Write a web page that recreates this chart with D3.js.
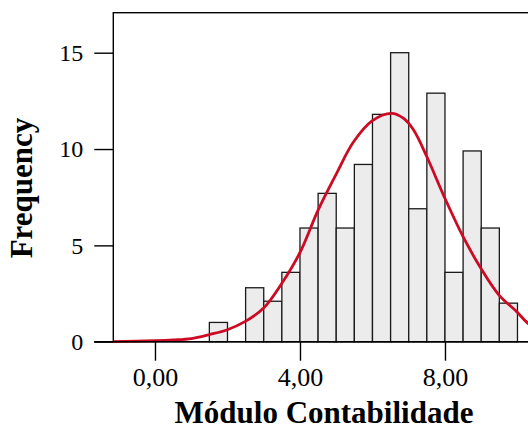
<!DOCTYPE html>
<html>
<head>
<meta charset="utf-8">
<script src="https://cdn.jsdelivr.net/npm/d3@7"></script>
<style>
  body { margin: 0; background: #fff; }
  svg { display: block; }
  text { font-family: "Liberation Serif", "Times New Roman", serif; fill: #000; }
</style>
</head>
<body>
<svg id="chart" width="528" height="430"></svg>
<script>
// histogram bins (lower edge, width 0.5) and frequencies
var binLow = [1.5, 2.0, 2.5, 3.0, 3.5, 4.0, 4.5, 5.0, 5.5, 6.0, 6.5, 7.0, 7.5, 8.0, 8.5, 9.0, 9.5];
var binCount = [1.0, 0, 2.8, 2.1, 3.6, 5.9, 7.7, 5.9, 9.2, 11.8, 15.0, 6.9, 12.9, 3.6, 9.9, 5.9, 2.0];
var binWidth = 0.5;

// fitted normal curve
var curveX = [-1.15, 0, 0.5, 1.0, 1.52, 1.98, 2.48, 2.99, 3.5, 4.0, 4.5, 5.01, 5.47, 5.98, 6.53, 6.85, 7.13, 7.5, 7.98, 8.5, 8.99, 9.49, 9.98, 10.29, 10.5];
var curveY = [0, 0.05, 0.09, 0.16, 0.38, 0.61, 1.04, 1.73, 3.03, 4.63, 6.83, 8.74, 10.35, 11.45, 11.85, 11.6, 11.0, 9.60, 7.52, 5.45, 3.81, 2.42, 1.56, 0.95, 0.72];

var xTicks = [0, 4, 8];
var xTickLabels = ["0,00", "4,00", "8,00"];
var yTicks = [0, 5, 10, 15];

var svg = d3.select("#chart");

var plot = {left: 113.3, top: 12.7, bottom: 341.7, right: 535.6};

var x = d3.scaleLinear().domain([-1.15, 10.5]).range([plot.left, plot.right]);
var y = d3.scaleLinear().domain([0, 15]).range([plot.bottom, 52.7]);

// frame (right side falls outside the window)
svg.append("rect")
    .attr("x", plot.left)
    .attr("y", plot.top)
    .attr("width", plot.right - plot.left)
    .attr("height", plot.bottom - plot.top)
    .attr("fill", "none")
    .attr("stroke", "#000")
    .attr("stroke-width", 1.4);

// bars
svg.selectAll("rect.bar")
    .data(binLow.map(function (d, i) { return {lo: d, n: binCount[i]}; }).filter(function (d) { return d.n > 0; }))
    .enter().append("rect")
    .attr("class", "bar")
    .attr("x", function (d) { return x(d.lo); })
    .attr("y", function (d) { return y(d.n); })
    .attr("width", function (d) { return x(d.lo + binWidth) - x(d.lo); })
    .attr("height", function (d) { return y(0) - y(d.n); })
    .attr("fill", "#ececec")
    .attr("stroke", "#1a1a1a")
    .attr("stroke-width", 1.3);

// normal curve
var line = d3.line()
    .x(function (d) { return x(d[0]); })
    .y(function (d) { return y(d[1]); })
    .curve(d3.curveCatmullRom);

svg.append("path")
    .datum(curveX.map(function (d, i) { return [d, curveY[i]]; }))
    .attr("d", line)
    .attr("fill", "none")
    .attr("stroke", "#cc0a24")
    .attr("stroke-width", 2.8);

// x axis
var xAxis = svg.append("g")
    .attr("transform", "translate(0," + plot.bottom + ")")
    .call(d3.axisBottom(x).tickValues(xTicks)
        .tickFormat(function (d, i) { return xTickLabels[i]; })
        .tickSize(19).tickPadding(7));
xAxis.select(".domain").remove();
xAxis.selectAll("line").attr("stroke", "#000").attr("stroke-width", 1.4);
xAxis.selectAll("text")
    .attr("font-family", "Liberation Serif, serif")
    .attr("font-size", 26)
    .attr("dy", "0.71em");

// baseline extends left to the 0 tick
svg.append("line")
    .attr("x1", 94).attr("x2", 528)
    .attr("y1", y(0)).attr("y2", y(0))
    .attr("stroke", "#000").attr("stroke-width", 1.4);

// y axis
var yAxis = svg.append("g")
    .attr("transform", "translate(" + plot.left + ",0)")
    .call(d3.axisLeft(y).tickValues(yTicks).tickSize(19).tickPadding(11));
yAxis.select(".domain").remove();
yAxis.selectAll("line").attr("stroke", "#000").attr("stroke-width", 1.4);
yAxis.selectAll("text")
    .attr("font-family", "Liberation Serif, serif")
    .attr("font-size", 24);

// axis titles
svg.append("text")
    .attr("x", 324)
    .attr("y", 423)
    .attr("text-anchor", "middle")
    .attr("font-size", 31)
    .attr("font-weight", "bold")
    .text("Módulo Contabilidade");

svg.append("text")
    .attr("transform", "translate(32,188) rotate(-90)")
    .attr("text-anchor", "middle")
    .attr("font-size", 31)
    .attr("font-weight", "bold")
    .text("Frequency");
</script>
</body>
</html>
